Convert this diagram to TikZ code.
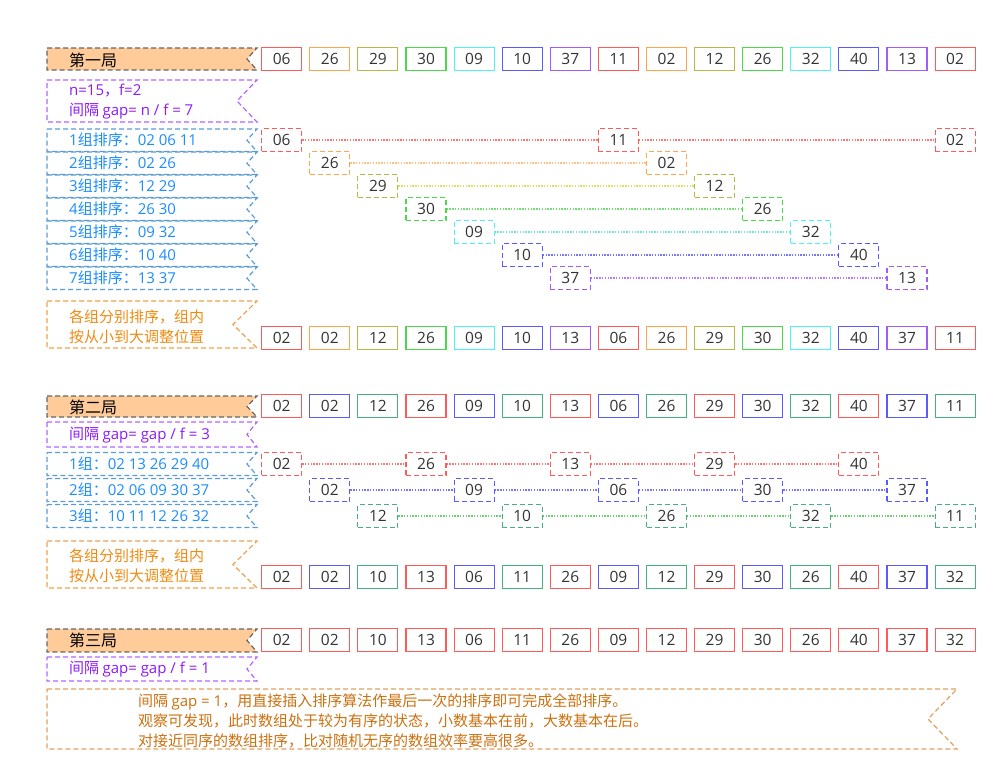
\documentclass[tikz,border=0pt]{standalone}
\usepackage{fontspec}
\setmainfont{Noto Sans CJK SC}
\newfontfamily\lat{Open Sans}
\definecolor{c0}{HTML}{FF5A5A}
\definecolor{c1}{HTML}{FFA64D}
\definecolor{c2}{HTML}{B8B84A}
\definecolor{c3}{HTML}{4CD84C}
\definecolor{c4}{HTML}{4DF2F2}
\definecolor{c5}{HTML}{5A5AFF}
\definecolor{c6}{HTML}{A35CF5}
\definecolor{d0}{HTML}{FF7575}
\definecolor{d1}{HTML}{FFC080}
\definecolor{d2}{HTML}{E0E060}
\definecolor{d3}{HTML}{70E070}
\definecolor{d4}{HTML}{70E8E0}
\definecolor{d5}{HTML}{7575FF}
\definecolor{d6}{HTML}{C075FF}
\definecolor{k0}{HTML}{FF5A5A}
\definecolor{k1}{HTML}{5A5AFF}
\definecolor{k2}{HTML}{45B080}
\definecolor{e0}{HTML}{FF7575}
\definecolor{e1}{HTML}{7575FF}
\definecolor{e2}{HTML}{70CC70}
\definecolor{peach}{HTML}{FFCC99}
\definecolor{lgray}{HTML}{666666}
\definecolor{lpurp}{HTML}{B266FF}
\definecolor{tpurp}{HTML}{8C1AFF}
\definecolor{lblue}{HTML}{5B9BD5}
\definecolor{tblue}{HTML}{1A8CFF}
\definecolor{lorng}{HTML}{F0A050}
\definecolor{torng}{HTML}{F08A10}
\definecolor{lbrwn}{HTML}{E0A060}
\definecolor{tbrwn}{HTML}{CC7010}
\definecolor{numtxt}{HTML}{333333}
\newcommand\lblbox[6]{\draw[lbl,#6] (#1,#2) -- (#3,#2) -- (#5,{(#2+#4)/2}) -- (#3,#4) -- (#1,#4) -- cycle;}
\begin{document}
\begin{tikzpicture}[x=1pt,y=-1pt,
  numbox/.style={draw, line width=1.1pt, minimum width=40pt, minimum height=23pt, inner sep=0pt,
    font=\lat\fontsize{15.5}{15.5}\selectfont, text=numtxt},
  grpbox/.style={numbox, dash pattern=on 5pt off 3pt},
  lbl/.style={line width=1.2pt, dash pattern=on 5pt off 3pt},
  conn/.style={line width=1.4pt, dash pattern=on 1.4pt off 1.4pt},
  txt/.style={anchor=west, inner sep=0pt, align=left, font=\fontsize{15}{20}\selectfont},
  head/.style={txt, text=black, font=\fontsize{16}{20}\selectfont}]
\useasboundingbox (0,0) rectangle (1007,782);

% ---------- label boxes ----------
\lblbox{47}{48}{257}{70}{247}{draw=lgray, fill=peach}
\node[head] (l1) at (69,60) {第一局};
\lblbox{47}{80}{257}{122}{237}{draw=lpurp}
\node[txt, text=tpurp] (l2) at (69,102) {{\lat n=15}，{\lat f=2}\\间隔 {\lat gap= n / f = 7}};
\foreach \t/\n [count=\g from 0] in {1/02 06 11,2/02 26,3/12 29,4/26 30,5/09 32,6/10 40,7/13 37}{
  \lblbox{47}{129+23*\g}{257}{151.5+23*\g}{247}{draw=lblue}
  \node[txt, text=tblue] (lg\g) at (69,140+23*\g) {{\lat\t}组排序：{\lat\n}};
}
\lblbox{47}{301}{257}{348}{233}{draw=lorng}
\node[txt, text=torng] (l3) at (69,327) {各组分别排序，组内\\按从小到大调整位置};

\lblbox{47}{396}{257}{417}{247}{draw=lgray, fill=peach}
\node[head] (l4) at (69,407) {第二局};
\lblbox{47}{422}{257}{447}{247}{draw=lpurp}
\node[txt, text=tpurp] (l5) at (69,435) {间隔 {\lat gap= gap / f = 3}};
\foreach \t/\n [count=\g from 0] in {1/02 13 26 29 40,2/02 06 09 30 37,3/10 11 12 26 32}{
  \lblbox{47}{452.5+26*\g}{257}{475.5+26*\g}{247}{draw=lblue}
  \node[txt, text=tblue] (lh\g) at (69,464+26*\g) {{\lat\t}组：{\lat\n}};
}
\lblbox{47}{541}{257}{588}{233}{draw=lorng}
\node[txt, text=torng] (l6) at (69,566) {各组分别排序，组内\\按从小到大调整位置};

\lblbox{47}{629}{257}{652}{247}{draw=lgray, fill=peach}
\node[head] (l7) at (69,640) {第三局};
\lblbox{47}{657}{257}{681}{247}{draw=lpurp}
\node[txt, text=tpurp] (l8) at (69,669) {间隔 {\lat gap= gap / f = 1}};

\lblbox{47}{689}{957}{749}{928}{draw=lbrwn}
\node[txt, text=tbrwn] (l9) at (138,721) {间隔 {\lat gap = 1}，用直接插入排序算法作最后一次的排序即可完成全部排序。\\观察可发现，此时数组处于较为有序的状态，小数基本在前，大数基本在后。\\对接近同序的数组排序，比对随机无序的数组效率要高很多。};

% ---------- round 1 ----------
\foreach \v [count=\i from 0] in {06,26,29,30,09,10,37,11,02,12,26,32,40,13,02}{
  \pgfmathtruncatemacro\c{mod(\i,7)}
  \node[numbox, draw=c\c] (a\i) at ({281.7+48.1*\i},59) {\v};
  \node[grpbox, draw=c\c] (ga\i) at ({281.7+48.1*\i},{140+23*\c}) {\v};
}
\foreach \i in {0,...,7}{
  \pgfmathtruncatemacro\j{\i+7}
  \pgfmathtruncatemacro\c{mod(\i,7)}
  \draw[conn, d\c] (ga\i) -- (ga\j);
}
\foreach \v [count=\i from 0] in {02,02,12,26,09,10,13,06,26,29,30,32,40,37,11}{
  \pgfmathtruncatemacro\c{mod(\i,7)}
  \pgfmathtruncatemacro\k{mod(\i,3)}
  \node[numbox, draw=c\c] (b\i) at ({281.7+48.1*\i},338) {\v};
  \node[numbox, draw=k\k] (c\i) at ({281.7+48.1*\i},406) {\v};
  \node[grpbox, draw=k\k] (gc\i) at ({281.7+48.1*\i},{464+26*\k}) {\v};
}
\foreach \i in {0,...,11}{
  \pgfmathtruncatemacro\j{\i+3}
  \pgfmathtruncatemacro\k{mod(\i,3)}
  \draw[conn, e\k] (gc\i) -- (gc\j);
}
\foreach \v [count=\i from 0] in {02,02,10,13,06,11,26,09,12,29,30,26,40,37,32}{
  \pgfmathtruncatemacro\k{mod(\i,3)}
  \node[numbox, draw=k\k] (d\i) at ({281.7+48.1*\i},577) {\v};
  \node[numbox, draw=c0] (e\i) at ({281.7+48.1*\i},640) {\v};
}
\end{tikzpicture}
\end{document}
